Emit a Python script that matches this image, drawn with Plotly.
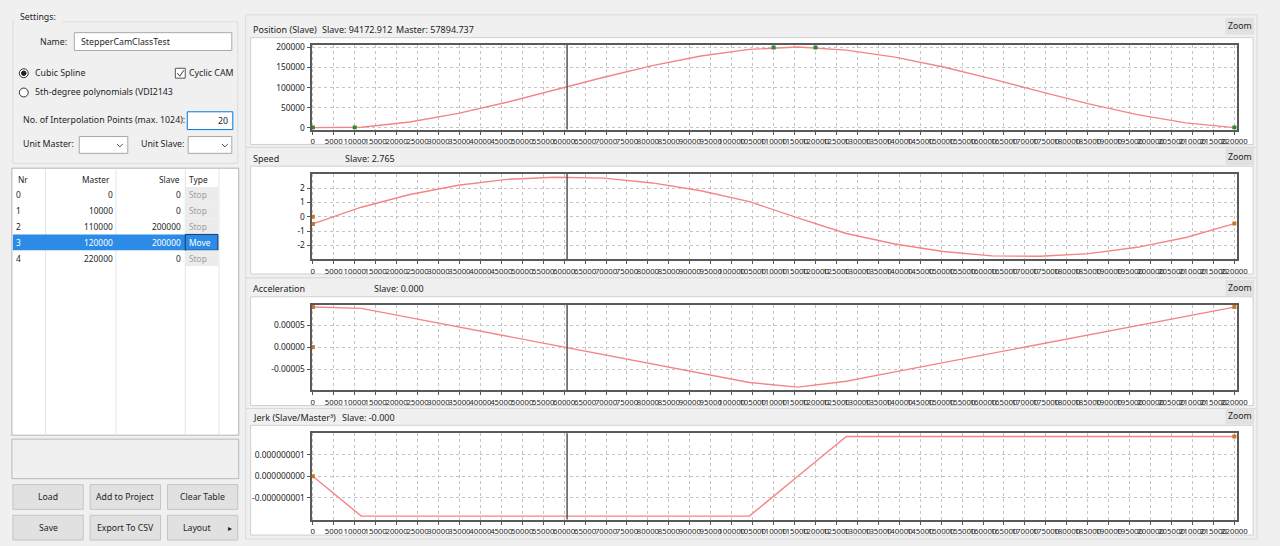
import plotly.graph_objects as go

W, H = 1280, 546

# ---------------- data ----------------
master = [0, 11578.947, 23157.895, 34736.842, 46315.789, 57894.737, 69473.684,
          81052.632, 92631.579, 104210.526, 115789.474, 127368.421, 138947.368,
          150526.316, 162105.263, 173684.211, 185263.158, 196842.105, 208421.053, 220000]
position = [0, 950, 14100, 35700, 63200, 94172.912, 125800, 154800, 178900, 195400,
            201300, 193500, 175900, 151200, 121600, 89800, 59100, 32500, 11800, 0]
speed = [-0.50, 0.67, 1.56, 2.21, 2.62, 2.765, 2.71, 2.37, 1.82, 1.06,
         -0.08, -1.17, -1.91, -2.43, -2.74, -2.77, -2.58, -2.14, -1.45, -0.48]
accel = [9.1e-5, 8.81e-5, 6.71e-5, 4.60e-5, 2.49e-5, 0.38e-5, -1.72e-5, -3.83e-5,
         -5.94e-5, -8.05e-5, -9.1e-5, -7.76e-5, -5.65e-5, -3.54e-5, -1.44e-5,
         0.67e-5, 2.78e-5, 4.89e-5, 6.99e-5, 9.1e-5]
jerk = [0, -1.85e-9, -1.85e-9, -1.85e-9, -1.85e-9, -1.85e-9, -1.85e-9, -1.85e-9,
        -1.85e-9, -1.85e-9, 0, 1.85e-9, 1.85e-9, 1.85e-9, 1.85e-9, 1.85e-9,
        1.85e-9, 1.85e-9, 1.85e-9, 1.85e-9]

table_nr = [0, 1, 2, 3, 4]
table_master = [0, 10000, 110000, 120000, 220000]
table_slave = [0, 0, 200000, 200000, 0]
table_type = ["Stop", "Stop", "Stop", "Move", "Stop"]
selected_row = 3

speed_marks_x = [0, 0, 220000]
speed_marks_y = [0, -0.50, -0.48]
accel_marks_x = [0, 0, 220000]
accel_marks_y = [9.1e-5, 0, 9.1e-5]
jerk_marks_x = [0, 220000]
jerk_marks_y = [0, 1.85e-9]

cursor_master = 60700

pos_ticks = [0, 50000, 100000, 150000, 200000]
pos_ticktext = ["0", "50000", "100000", "150000", "200000"]
speed_ticks = [-2, -1, 0, 1, 2]
speed_ticktext = ["-2", "-1", "0", "1", "2"]
accel_ticks = [-5e-5, 0, 5e-5]
accel_ticktext = ["-0.00005", "0.00000", "0.00005"]
jerk_ticks = [-1e-9, 0, 1e-9]
jerk_ticktext = ["-0.000000001", "0.000000000", "0.000000001"]

panel_titles = [
    [("Position (Slave)", 252), ("Slave: 94172.912", 322), ("Master: 57894.737", 397)],
    [("Speed", 252), ("Slave: 2.765", 345)],
    [("Acceleration", 252), ("Slave: 0.000", 375)],
    [("Jerk (Slave/Master³)", 252), ("Slave: -0.000", 342)],
]

# ---------------- helpers ----------------
FONT = "Noto Sans"
TXT = "#1e1e1e"
UI = 8.8
shapes, annots = [], []


def px(x):
    return x / W


def py(y):
    return 1 - y / H


def rect(x0, y0, x1, y1, fill, line=None, lw=1):
    shapes.append(dict(type="rect", xref="paper", yref="paper",
                       x0=px(x0), x1=px(x1), y0=py(y1), y1=py(y0),
                       fillcolor=fill, layer="below",
                       line=dict(color=line if line else fill, width=lw if line else 0)))


def vline(x, y0, y1, color, w=1):
    shapes.append(dict(type="line", xref="paper", yref="paper", x0=px(x), x1=px(x),
                       y0=py(y0), y1=py(y1), line=dict(color=color, width=w), layer="below"))


def text(x, y, s, size=UI, color=TXT, anchor="left"):
    annots.append(dict(x=px(x), y=py(y), xref="paper", yref="paper", text=s,
                       showarrow=False, xanchor=anchor, yanchor="middle",
                       font=dict(family=FONT, size=size, color=color)))


def chevron(cx, cy, color="#555"):
    shapes.append(dict(type="path", xref="paper", yref="paper",
                       path=f"M {px(cx-3)},{py(cy-1.5)} L {px(cx)},{py(cy+1.5)} L {px(cx+3)},{py(cy-1.5)}",
                       line=dict(color=color, width=1)))


def circle(cx, cy, r, fill, line):
    shapes.append(dict(type="circle", xref="paper", yref="paper",
                       x0=px(cx - r), x1=px(cx + r), y0=py(cy + r), y1=py(cy - r),
                       fillcolor=fill, line=dict(color=line, width=1)))


# ---------------- left settings panel ----------------
rect(12, 19, 239, 162, "#f0f0f0", "#dcdcdc")
rect(14, 9, 62, 20, "#f0f0f0")
text(17, 14, "Settings:")
text(37, 39, "Name:")
rect(74, 30, 233, 48, "white", "#a8a8a8")
text(79, 39, "StepperCamClassTest")
circle(23, 71, 4.5, "white", "#333")
circle(23, 71, 2.3, "#222", "#222")
text(32, 71, "Cubic Spline")
rect(176, 66, 186, 76, "white", "#555")
shapes.append(dict(type="path", xref="paper", yref="paper",
                   path=f"M {px(178)},{py(71)} L {px(180.5)},{py(74)} L {px(184.5)},{py(68)}",
                   line=dict(color="#333", width=1)))
text(188, 71, "Cyclic CAM")
circle(23, 90.5, 4.5, "white", "#333")
text(32, 90, "5th-degree polynomials (VDI2143")
text(20, 118, "No. of Interpolation Points (max. 1024):")
rect(188, 110, 234, 128, "white", "#0078d7")
text(231, 119, "20", anchor="right")
text(20, 143, "Unit Master:")
rect(79, 135, 128, 152, "white", "#a8a8a8")
chevron(120, 144)
text(139, 143, "Unit Slave:")
rect(189, 135, 233, 152, "white", "#a8a8a8")
chevron(226, 144)

# ---------------- table ----------------
rect(11, 167, 240, 437, "white", "#b4b4b4")
for cx in [45, 116, 186, 220]:
    vline(cx, 168, 436, "#e4e4e4")
row_y0 = 194
row_h = 16
TS = 8.4
text(15, 178, "Nr", size=TS)
text(112, 178, "Master", size=TS, anchor="right")
text(183, 178, "Slave", size=TS, anchor="right")
text(188, 178, "Type", size=TS)
for i, (nr, m, s, t) in enumerate(zip(table_nr, table_master, table_slave, table_type)):
    yc = row_y0 + i * row_h
    sel = (i == selected_row)
    if sel:
        rect(12, yc - 8, 219, yc + 8, "#2b8be6")
        rect(186, yc - 8, 219, yc + 8, "#2b8be6", "#1a3a6a", 1)
    else:
        rect(186.5, yc - 8, 219.5, yc + 8, "#ececec")
    col = "white" if sel else TXT
    text(13, yc, str(nr), size=TS, color=col)
    text(115, yc, str(m), size=TS, color=col, anchor="right")
    text(184, yc, str(s), size=TS, color=col, anchor="right")
    text(188, yc, t, size=TS, color="white" if sel else "#a0a0a0")

# status box + buttons
rect(11, 441, 240, 481, "#f0f0f0", "#b8b8b8")
buttons = [("Load", 12, 487), ("Add to Project", 90, 487), ("Clear Table", 168, 487),
           ("Save", 12, 518), ("Export To CSV", 90, 518), ("Layout", 168, 518)]
for label, bx, by in buttons:
    rect(bx, by, bx + 71, by + 25, "#e1e1e1", "#c4c4c4")
    if label == "Layout":
        text(bx + 30, by + 12.5, label, size=8.7, anchor="center")
        text(bx + 63, by + 12.5, "▸", size=8, anchor="center")
    else:
        text(bx + 35.5, by + 12.5, label, size=8.7, anchor="center")

# ---------------- right chart panels ----------------
panels = [
    dict(outer=(247, 12, 1268, 146), white=(252, 35, 1264, 143), ty=27, zoom=(1236, 15, 1265, 32), frame=(42, 128)),
    dict(outer=(247, 146, 1268, 278), white=(252, 165, 1264, 274), ty=157, zoom=(1236, 147, 1265, 164), frame=(172.7, 259)),
    dict(outer=(247, 278, 1268, 410), white=(252, 297, 1264, 407), ty=289, zoom=(1236, 280, 1265, 296), frame=(305, 391.7)),
    dict(outer=(247, 410, 1268, 542), white=(252, 427, 1264, 538), ty=419, zoom=(1236, 410, 1265, 426), frame=(435, 522.3)),
]
for p, tl in zip(panels, panel_titles):
    rect(*p["outer"], "#f0f0f0", "#dadada")
    rect(*p["white"], "white", "#d0d0d0")
    rect(*p["zoom"], "#e1e1e1")
    zx0, zy0, zx1, zy1 = p["zoom"]
    text((zx0 + zx1) / 2, (zy0 + zy1) / 2, "Zoom", size=8.7, anchor="center")
    for s, tx in tl:
        text(tx, p["ty"], s, size=9)

FX0, FX1 = 313.5, 1248
series = [
    (position, pos_ticks, pos_ticktext, [-4940, 207400]),
    (speed, speed_ticks, speed_ticktext, [-2.97, 3.01]),
    (accel, accel_ticks, accel_ticktext, [-9.85e-5, 9.65e-5]),
    (jerk, jerk_ticks, jerk_ticktext, [-2.01e-9, 2.0e-9]),
]
mark_sets = [
    (table_master, table_slave, "#2d8a2d"),
    (speed_marks_x, speed_marks_y, "#c8781e"),
    (accel_marks_x, accel_marks_y, "#c8781e"),
    (jerk_marks_x, jerk_marks_y, "#c8781e"),
]

fig = go.Figure()
layout = {}
for i, ((vals, tv, tt, yr), (mx, my, mc), p) in enumerate(zip(series, mark_sets, panels)):
    n = "" if i == 0 else str(i + 1)
    xa, ya = "x" + n, "y" + n
    fig.add_trace(go.Scatter(x=master, y=vals, mode="lines", xaxis=xa, yaxis=ya,
                             line=dict(color="#f58484", width=1.4), hoverinfo="skip",
                             showlegend=False))
    fig.add_trace(go.Scatter(x=mx, y=my, mode="markers", xaxis=xa, yaxis=ya,
                             marker=dict(color=mc, size=4, symbol="square"),
                             hoverinfo="skip", showlegend=False))
    top, bot = p["frame"]
    common = dict(showline=True, mirror=True, linecolor="#5a5a5a", linewidth=2,
                  showgrid=True, gridcolor="#c4c4c4", griddash="dot", gridwidth=1,
                  zeroline=False, ticks="outside", ticklen=3, tickcolor="#555")
    layout["xaxis" + n] = dict(common, domain=[px(FX0), px(FX1)], anchor=ya,
                               range=[-300, 220700], dtick=5000, tick0=0,
                               tickformat="d", tickangle=0,
                               tickfont=dict(family=FONT, size=7.8, color="#222"))
    layout["yaxis" + n] = dict(common, domain=[py(bot), py(top)], anchor=xa,
                               range=yr, tickmode="array", tickvals=tv, ticktext=tt,
                               tickfont=dict(family=FONT, size=8.4, color="#222"))
    shapes.append(dict(type="line", xref=xa, yref=ya + " domain", x0=cursor_master,
                       x1=cursor_master, y0=0, y1=1, line=dict(color="#555", width=1.5)))

fig.update_layout(width=W, height=H, margin=dict(l=0, r=0, t=0, b=0),
                  paper_bgcolor="#f0f0f0", plot_bgcolor="white",
                  shapes=shapes, annotations=annots, showlegend=False, **layout)

post = (
    "var de=document.documentElement, b=document.body;"
    "de.style.margin='0'; b.style.margin='0'; de.style.padding='0'; b.style.padding='0';"
    "de.style.overflow='hidden'; b.style.overflow='hidden'; b.style.background='#f0f0f0';"
    "var gd=document.getElementById('{plot_id}');"
    "var w=window.innerWidth, h=window.innerHeight;"
    "if (w && h && (w!==" + str(W) + " || h!==" + str(H) + ")) {"
    "  gd.style.width=w+'px'; gd.style.height=h+'px';"
    "  Plotly.relayout(gd, {width: w, height: h});"
    "}"
)
fig.write_html("out.html", config={"displayModeBar": False}, post_script=post)
